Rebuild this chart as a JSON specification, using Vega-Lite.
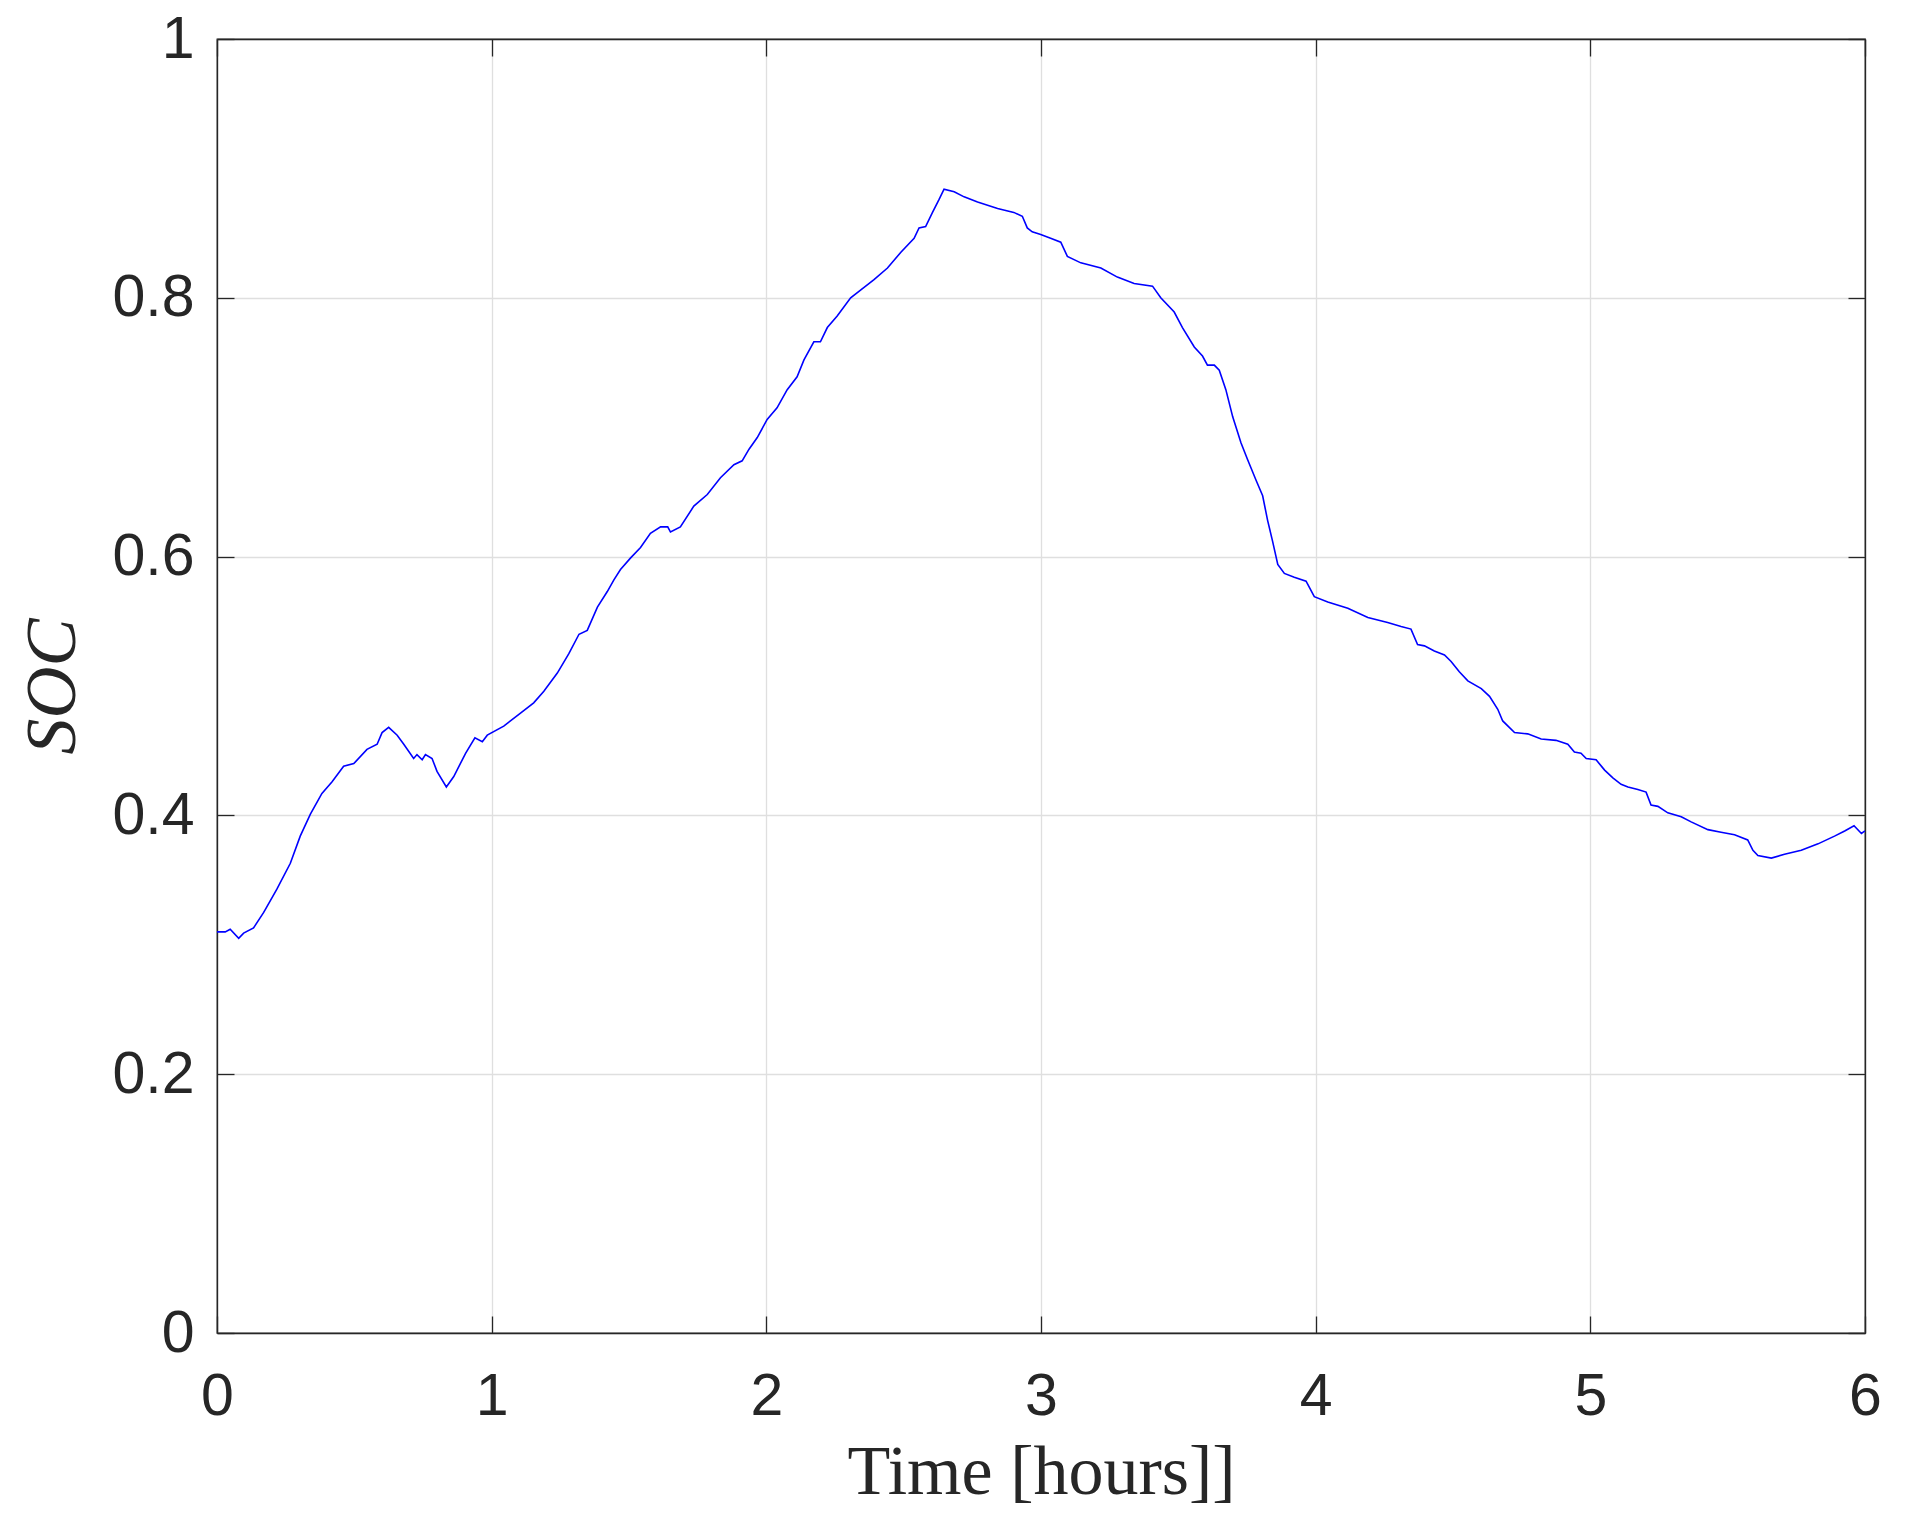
{
  "$schema": "https://vega.github.io/schema/vega-lite/v6.json",
  "width": 1648,
  "height": 1294,
  "autosize": {"type": "none"},
  "padding": {"left": 217, "top": 39, "right": 44, "bottom": 189},
  "background": "white",
  "config": {
    "view": {"stroke": "#262626", "strokeWidth": 1.3},
    "axis": {
      "domainColor": "#262626",
      "domainWidth": 1.3,
      "tickColor": "#262626",
      "tickWidth": 1.3,
      "tickSize": -17,
      "gridColor": "#dfdfdf",
      "gridWidth": 1.3,
      "labelFont": "Liberation Sans",
      "labelFontSize": 59,
      "labelColor": "#262626",
      "titleColor": "#262626",
      "titleFont": "Liberation Serif",
      "titleFontWeight": "normal"
    }
  },
  "data": {
    "values": [
      {"t": 0, "soc": 0.310}, {"t": 0.030, "soc": 0.310}, {"t": 0.048, "soc": 0.312}, {"t": 0.079, "soc": 0.305},
      {"t": 0.097, "soc": 0.309}, {"t": 0.133, "soc": 0.313}, {"t": 0.170, "soc": 0.325}, {"t": 0.218, "soc": 0.343},
      {"t": 0.267, "soc": 0.363}, {"t": 0.303, "soc": 0.384}, {"t": 0.340, "soc": 0.401}, {"t": 0.382, "soc": 0.417},
      {"t": 0.419, "soc": 0.426}, {"t": 0.461, "soc": 0.438}, {"t": 0.498, "soc": 0.440}, {"t": 0.546, "soc": 0.451},
      {"t": 0.583, "soc": 0.455}, {"t": 0.601, "soc": 0.464}, {"t": 0.625, "soc": 0.468}, {"t": 0.656, "soc": 0.462},
      {"t": 0.680, "soc": 0.455}, {"t": 0.716, "soc": 0.444}, {"t": 0.728, "soc": 0.447}, {"t": 0.747, "soc": 0.443},
      {"t": 0.759, "soc": 0.447}, {"t": 0.783, "soc": 0.444}, {"t": 0.801, "soc": 0.434}, {"t": 0.835, "soc": 0.422},
      {"t": 0.862, "soc": 0.430}, {"t": 0.905, "soc": 0.448}, {"t": 0.939, "soc": 0.460}, {"t": 0.966, "soc": 0.457},
      {"t": 0.984, "soc": 0.462}, {"t": 1.044, "soc": 0.469}, {"t": 1.105, "soc": 0.479}, {"t": 1.153, "soc": 0.487},
      {"t": 1.190, "soc": 0.496}, {"t": 1.239, "soc": 0.510}, {"t": 1.281, "soc": 0.525}, {"t": 1.318, "soc": 0.540},
      {"t": 1.348, "soc": 0.543}, {"t": 1.385, "soc": 0.561}, {"t": 1.421, "soc": 0.573}, {"t": 1.445, "soc": 0.582},
      {"t": 1.469, "soc": 0.590}, {"t": 1.506, "soc": 0.599}, {"t": 1.542, "soc": 0.607}, {"t": 1.578, "soc": 0.618},
      {"t": 1.615, "soc": 0.623}, {"t": 1.641, "soc": 0.623}, {"t": 1.651, "soc": 0.619}, {"t": 1.687, "soc": 0.623},
      {"t": 1.736, "soc": 0.639}, {"t": 1.785, "soc": 0.648}, {"t": 1.833, "soc": 0.661}, {"t": 1.882, "soc": 0.671},
      {"t": 1.912, "soc": 0.674}, {"t": 1.937, "soc": 0.683}, {"t": 1.967, "soc": 0.692}, {"t": 2.003, "soc": 0.706},
      {"t": 2.039, "soc": 0.715}, {"t": 2.076, "soc": 0.729}, {"t": 2.112, "soc": 0.739}, {"t": 2.137, "soc": 0.752},
      {"t": 2.173, "soc": 0.766}, {"t": 2.197, "soc": 0.766}, {"t": 2.222, "soc": 0.777}, {"t": 2.258, "soc": 0.786},
      {"t": 2.307, "soc": 0.800}, {"t": 2.343, "soc": 0.806}, {"t": 2.392, "soc": 0.814}, {"t": 2.441, "soc": 0.823},
      {"t": 2.489, "soc": 0.835}, {"t": 2.538, "soc": 0.846}, {"t": 2.556, "soc": 0.854}, {"t": 2.580, "soc": 0.855},
      {"t": 2.605, "soc": 0.866}, {"t": 2.629, "soc": 0.876}, {"t": 2.647, "soc": 0.884}, {"t": 2.684, "soc": 0.882},
      {"t": 2.720, "soc": 0.878}, {"t": 2.769, "soc": 0.874}, {"t": 2.842, "soc": 0.869}, {"t": 2.901, "soc": 0.866},
      {"t": 2.932, "soc": 0.863}, {"t": 2.950, "soc": 0.854}, {"t": 2.968, "soc": 0.851}, {"t": 2.999, "soc": 0.849},
      {"t": 3.035, "soc": 0.846}, {"t": 3.072, "soc": 0.843}, {"t": 3.096, "soc": 0.832}, {"t": 3.145, "soc": 0.827},
      {"t": 3.218, "soc": 0.823}, {"t": 3.278, "soc": 0.816}, {"t": 3.339, "soc": 0.811}, {"t": 3.406, "soc": 0.809},
      {"t": 3.436, "soc": 0.800}, {"t": 3.485, "soc": 0.789}, {"t": 3.515, "soc": 0.777}, {"t": 3.558, "soc": 0.762},
      {"t": 3.588, "soc": 0.755}, {"t": 3.606, "soc": 0.748}, {"t": 3.631, "soc": 0.748}, {"t": 3.649, "soc": 0.744},
      {"t": 3.673, "soc": 0.729}, {"t": 3.698, "soc": 0.708}, {"t": 3.728, "soc": 0.688}, {"t": 3.752, "soc": 0.675},
      {"t": 3.783, "soc": 0.659}, {"t": 3.807, "soc": 0.647}, {"t": 3.825, "soc": 0.628}, {"t": 3.843, "soc": 0.612},
      {"t": 3.862, "soc": 0.594}, {"t": 3.886, "soc": 0.587}, {"t": 3.922, "soc": 0.584}, {"t": 3.965, "soc": 0.581},
      {"t": 3.995, "soc": 0.569}, {"t": 4.044, "soc": 0.565}, {"t": 4.117, "soc": 0.560}, {"t": 4.190, "soc": 0.553},
      {"t": 4.262, "soc": 0.549}, {"t": 4.311, "soc": 0.546}, {"t": 4.347, "soc": 0.544}, {"t": 4.371, "soc": 0.532},
      {"t": 4.396, "soc": 0.531}, {"t": 4.432, "soc": 0.527}, {"t": 4.469, "soc": 0.524}, {"t": 4.493, "soc": 0.519},
      {"t": 4.523, "soc": 0.511}, {"t": 4.554, "soc": 0.504}, {"t": 4.603, "soc": 0.498}, {"t": 4.633, "soc": 0.492},
      {"t": 4.663, "soc": 0.482}, {"t": 4.681, "soc": 0.473}, {"t": 4.724, "soc": 0.464}, {"t": 4.772, "soc": 0.463},
      {"t": 4.821, "soc": 0.459}, {"t": 4.875, "soc": 0.458}, {"t": 4.918, "soc": 0.455}, {"t": 4.942, "soc": 0.449},
      {"t": 4.966, "soc": 0.448}, {"t": 4.985, "soc": 0.444}, {"t": 5.021, "soc": 0.443}, {"t": 5.052, "soc": 0.435},
      {"t": 5.082, "soc": 0.429}, {"t": 5.112, "soc": 0.424}, {"t": 5.137, "soc": 0.422}, {"t": 5.173, "soc": 0.420},
      {"t": 5.203, "soc": 0.418}, {"t": 5.221, "soc": 0.408}, {"t": 5.246, "soc": 0.407}, {"t": 5.282, "soc": 0.402},
      {"t": 5.331, "soc": 0.399}, {"t": 5.367, "soc": 0.395}, {"t": 5.428, "soc": 0.389}, {"t": 5.476, "soc": 0.387},
      {"t": 5.525, "soc": 0.385}, {"t": 5.573, "soc": 0.381}, {"t": 5.592, "soc": 0.373}, {"t": 5.610, "soc": 0.369},
      {"t": 5.659, "soc": 0.367}, {"t": 5.707, "soc": 0.370}, {"t": 5.768, "soc": 0.373}, {"t": 5.829, "soc": 0.378},
      {"t": 5.889, "soc": 0.384}, {"t": 5.926, "soc": 0.388}, {"t": 5.960, "soc": 0.392}, {"t": 5.987, "soc": 0.386},
      {"t": 6.0, "soc": 0.388}
    ]
  },
  "layer": [
    {
      "mark": {"type": "line", "opacity": 0},
      "encoding": {
        "x": {"field": "t", "type": "quantitative", "scale": {"domain": [0, 6], "nice": false, "zero": false},
              "axis": {"orient": "top", "values": [0, 1, 2, 3, 4, 5, 6], "labels": false, "grid": false, "title": null}},
        "y": {"field": "soc", "type": "quantitative", "scale": {"domain": [0, 1], "nice": false},
              "axis": {"orient": "right", "values": [0, 0.2, 0.4, 0.6, 0.8, 1], "labels": false, "grid": false, "title": null}}
      }
    },
    {
      "mark": {"type": "line", "color": "#0000ff", "strokeWidth": 1.6},
      "encoding": {
        "x": {"field": "t", "type": "quantitative", "scale": {"domain": [0, 6], "nice": false, "zero": false},
              "axis": {"orient": "bottom", "values": [0, 1, 2, 3, 4, 5, 6], "format": "~g", "labelFlush": false,
                       "labelPadding": 51, "grid": true, "title": "Time [hours]]", "titleFontSize": 70, "titlePadding": 12}},
        "y": {"field": "soc", "type": "quantitative", "scale": {"domain": [0, 1], "nice": false},
              "axis": {"orient": "left", "values": [0, 0.2, 0.4, 0.6, 0.8, 1], "format": "~g", "labelFlush": false,
                       "labelPadding": 40, "grid": true, "title": "SOC", "titleFontSize": 72, "titleFontStyle": "italic", "titlePadding": 22}}
      }
    }
  ],
  "resolve": {"axis": {"x": "independent", "y": "independent"}}
}
